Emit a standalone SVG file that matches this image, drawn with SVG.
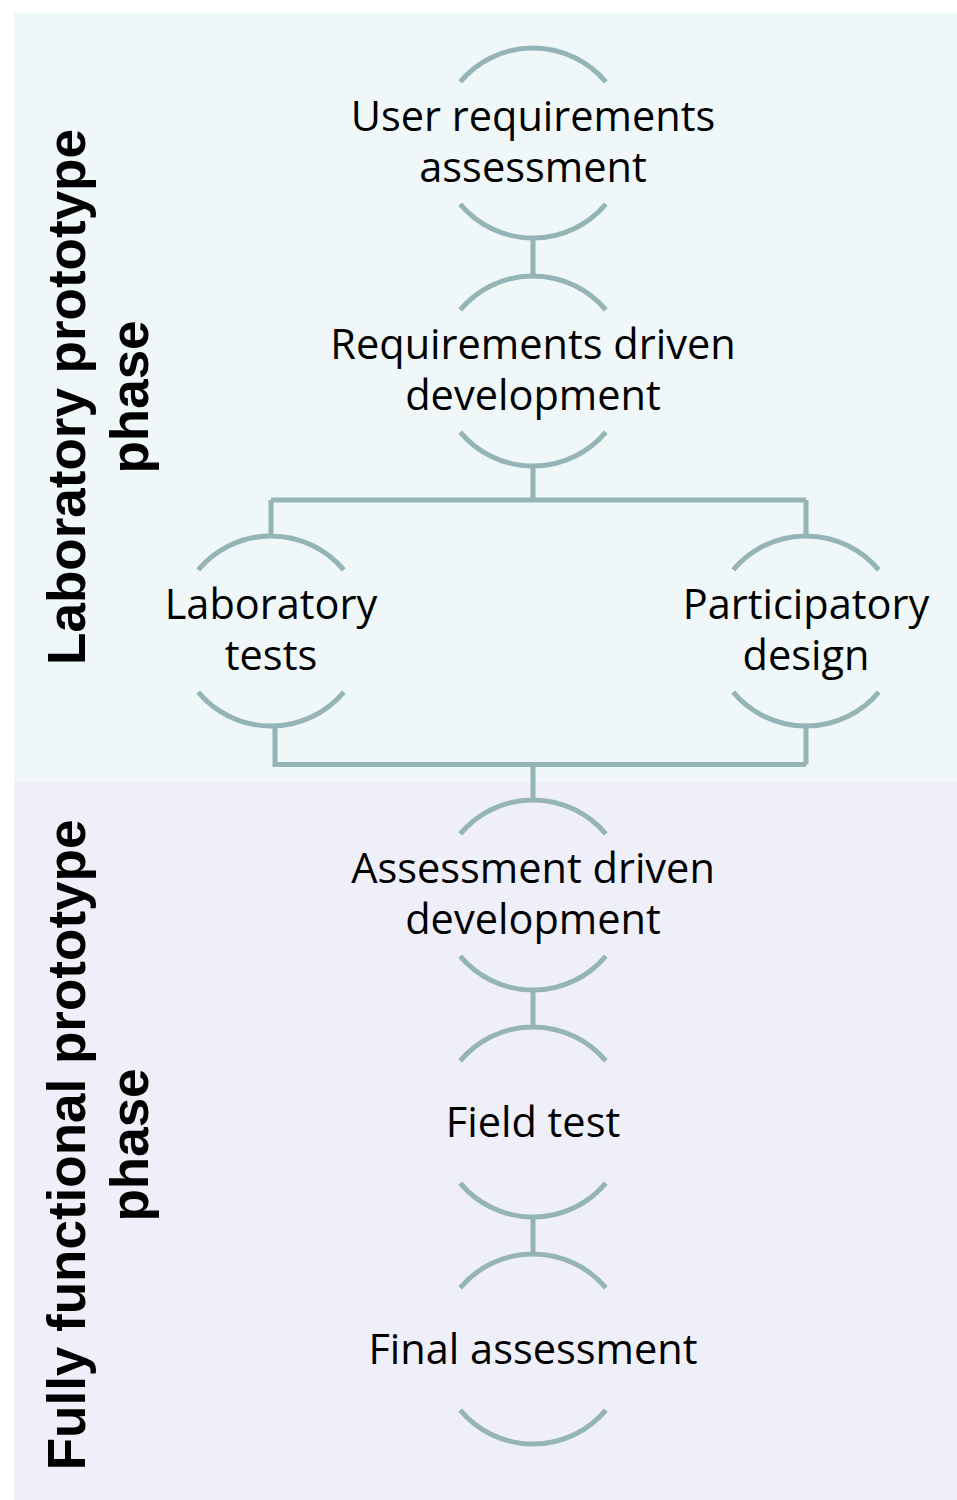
<svg xmlns="http://www.w3.org/2000/svg" xmlns:xlink="http://www.w3.org/1999/xlink" width="957" height="1500" viewBox="0 0 957 1500">
<style>
.arc{fill:none;stroke:#94B4B6;stroke-width:5}
.con{fill:none;stroke:#94B4B6;stroke-width:5}
.t{font-family:"Open Sans","Noto Sans",sans-serif;font-size:41.5px;fill:#000;text-anchor:middle}
.ph{font-family:"Liberation Sans",Arial,sans-serif;font-size:53px;font-weight:bold;fill:#000;text-anchor:middle}
</style>
<defs>
<path id="arcs" class="arc" d="M-72.8,-61.1 A95,95 0 0 1 72.8,-61.1 M-72.8,61.1 A95,95 0 0 0 72.8,61.1"/>
</defs>
<g id="backgrounds">
<rect x="14" y="13" width="943" height="769" fill="#EFF7F9"/>
<rect x="14" y="782" width="943" height="718" fill="#EFEFF9"/>
</g>
<g id="phase-labels">
<g id="lab-phase" transform="translate(85,397) rotate(-90)">
<text class="ph" x="0" y="0">Laboratory prototype</text>
<text class="ph" x="0" y="63">phase</text>
</g>
<g id="full-phase" transform="translate(85,1145) rotate(-90)">
<text class="ph" x="0" y="0">Fully functional prototype</text>
<text class="ph" x="0" y="63">phase</text>
</g>
</g>
<g id="connectors">
<path class="con" d="M533,238 V276"/>
<path class="con" d="M533,466 V500 M271,500 H806 M271,500 V536 M806,500 V536"/>
<path class="con" d="M275,726 V764.5 H806 M806,726 V764.5 M533,764.5 V800"/>
<path class="con" d="M533,990 V1027"/>
<path class="con" d="M533,1217 V1254"/>
</g>
<g id="node-user-req">
<use xlink:href="#arcs" href="#arcs" transform="translate(533,143)"/>
<text class="t" x="533" y="131">User requirements</text>
<text class="t" x="533" y="182">assessment</text>
</g>
<g id="node-req-driven">
<use xlink:href="#arcs" href="#arcs" transform="translate(533,371)"/>
<text class="t" x="533" y="359">Requirements driven</text>
<text class="t" x="533" y="410">development</text>
</g>
<g id="node-lab-tests">
<use xlink:href="#arcs" href="#arcs" transform="translate(271,631)"/>
<text class="t" x="271" y="619">Laboratory</text>
<text class="t" x="271" y="670">tests</text>
</g>
<g id="node-participatory">
<use xlink:href="#arcs" href="#arcs" transform="translate(806,631)"/>
<text class="t" x="806" y="619">Participatory</text>
<text class="t" x="806" y="670">design</text>
</g>
<g id="node-assess-driven">
<use xlink:href="#arcs" href="#arcs" transform="translate(533,895)"/>
<text class="t" x="533" y="883">Assessment driven</text>
<text class="t" x="533" y="934">development</text>
</g>
<g id="node-field-test">
<use xlink:href="#arcs" href="#arcs" transform="translate(533,1122)"/>
<text class="t" x="533" y="1137">Field test</text>
</g>
<g id="node-final">
<use xlink:href="#arcs" href="#arcs" transform="translate(533,1349)"/>
<text class="t" x="533" y="1364">Final assessment</text>
</g>
</svg>
